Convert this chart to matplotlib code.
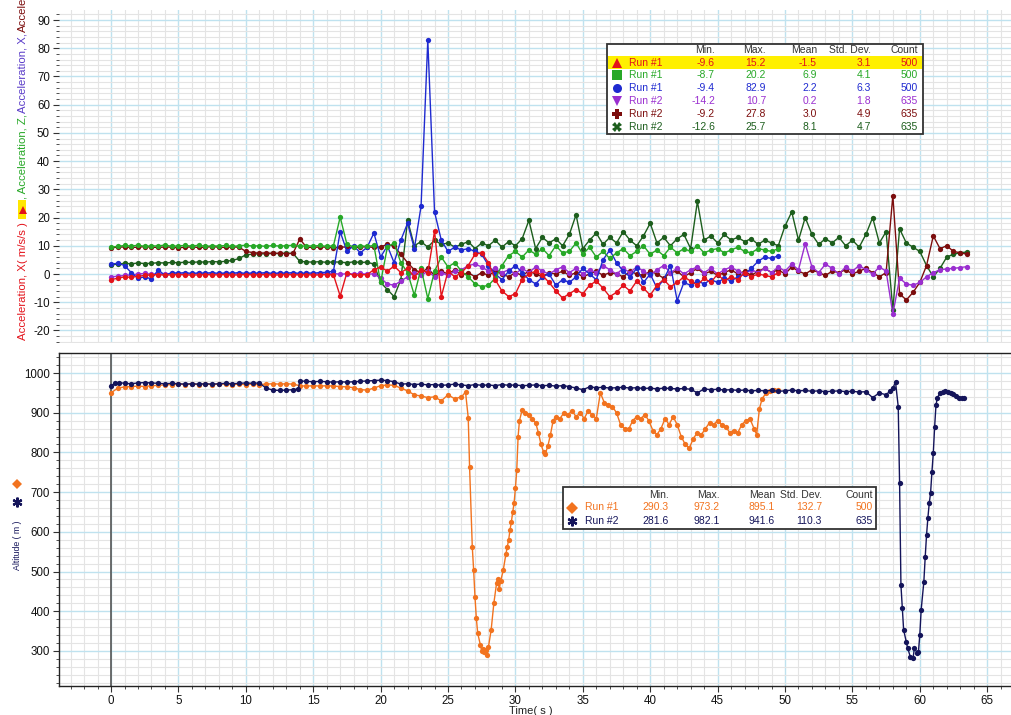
import numpy as np
import matplotlib
matplotlib.use("Agg")
import matplotlib.pyplot as plt
from matplotlib.ticker import MultipleLocator
from matplotlib.patches import Rectangle
from matplotlib.lines import Line2D

plt.rcParams['font.family'] = ['Liberation Sans', 'DejaVu Sans']
plt.rcParams['axes.unicode_minus'] = False

W, H = 1012, 715
STEP = 0.5  # seconds between the acceleration readings kept

# -- Run #1 acceleration ( m/s/s ), one reading every STEP s from t = 0
acc_x1 = [-2.0, -1.5, -1.0, -1.2, -0.8, -0.5,
          -0.3, -0.2, -0.4, -0.3, -0.2, -0.3, -0.4, -0.3, -0.2, -0.3, -0.3, -0.2, -0.4, -0.3,
          -0.2, -0.3, -0.3, -0.2, -0.4, -0.3, -0.2, -0.3, -0.3, -0.2, -0.4, -0.3, -0.2, -0.3,
          -7.8, 0.5, -0.5, -0.3, -0.2, 1.5, 2.5, 1.0, 2.8, 0.5, 2.0, -1.0, 1.5, 0.5,
          15.2, -8.0, 1.0, -1.0, 0.5, 3.0, 7.0, 7.5, 4.0, -2.0,
          -6.0, -8.0, -7.0, -2.0, 0.0, 1.0, -0.5, -3.0, -6.0, -8.5,
          -7.0, -5.5, -7.0, -4.0, -2.5, -5.0, -8.0, -6.5, -4.0, -6.0,
          -2.5, -5.0, -7.5, -4.0, -2.0, -4.5, -3.0, -1.0, -2.5, -4.0,
          -1.5, -3.0, 0.0, -2.5, -1.0, -2.0, 0.5, -1.0, 0.0, -0.5, -1.0, 0.5]
acc_z1 = [9.5, 9.8, 10.1, 9.9, 10.2, 9.8, 10.0, 9.9, 10.3, 9.8, 10.0, 10.1, 9.9, 10.2, 9.8, 10.0, 9.9,
          10.1, 9.8, 10.0, 10.2, 9.9, 10.0, 9.8, 10.1, 9.9, 10.0, 10.2, 9.8, 10.0, 9.9, 10.1, 9.8, 10.0,
          20.2, 10.5, 9.6, 10.0, 9.8, 10.1, -3.0, 9.5, 11.0, 4.0, 0.5, -7.5, 2.0, -8.7, 1.0, 6.0,
          2.5, 4.0, 1.0, -1.0, -3.5, -4.5, -4.0, -1.5, 3.0, 6.5, 8.0, 6.0, 8.5, 7.0, 9.0, 6.5,
          10.0, 7.5, 8.0, 11.0, 7.0, 9.5, 6.0, 8.0, 5.5, 7.5, 9.0, 6.5, 8.0, 10.0, 7.0, 8.5,
          6.5, 9.5, 7.5, 9.0, 8.0, 10.0, 7.5, 8.5, 9.0, 7.5, 8.5, 9.5, 8.0, 7.5, 9.0, 8.5, 8.0, 9.0]
acc_y1 = [3.5, 3.8, 3.0, 0.5, -1.5, -1.0, -1.8, 1.5, -0.5, 0.5,
          0.3, 0.5, 0.2, 0.4, 0.3, 0.5, 0.2, 0.4, 0.3, 0.5, 0.2, 0.4,
          0.3, 0.5, 0.2, 0.4, 0.3, 0.5, 0.2, 0.4, 0.3, 0.5, 0.6, 1.0,
          15.0, 8.0, 10.0, 7.5, 9.5, 14.5, 6.0, 10.0, 4.0, 12.0, 18.0, 9.0, 24.0, 82.9,
          22.0, 12.0, 8.0, 9.5, 8.5, 9.0, 8.0, 7.0, 3.0, 0.0, -2.0, 1.0, 3.0, 0.5,
          -2.0, -3.5, -1.0, 0.0, -4.0, -2.0, -3.0, -1.0, 2.0, 0.0, -2.0, 5.0, 8.5, 4.0,
          1.0, -1.0, 2.0, -3.0, 0.0, -5.0, -2.0, 3.0, -9.4, -3.0, -4.0, -2.5, -3.5, -2.0,
          -3.0, -1.5, -2.5, -1.0, 0.0, 2.0, 4.5, 6.0, 5.5, 6.5]

# -- Run #2 acceleration
acc_x2 = [-1.0, -0.8, -0.5, -0.3,
          0.0, 0.2, -0.1, 0.1, 0.0, 0.2, -0.1, 0.1, 0.0, 0.2, -0.1, 0.1,
          0.0, 0.2, -0.1, 0.1, 0.0, 0.2, -0.1, 0.1, 0.0, 0.2, -0.1, 0.1,
          0.0, 0.2, -0.1, 0.1, 0.0, 0.2, -0.1, 0.1, 0.0, 0.2, -0.1, 0.1,
          -1.5, -3.5, -4.0, -2.5, -1.0, 0.5, -0.5, 1.0, -1.0, 0.5,
          -0.5, 1.0, 1.5, 3.0, 3.5, 2.5, 1.0, 2.0, 0.5, 1.5,
          0.0, 2.0, 0.5, 2.5, 1.0, 0.0, 1.5, 2.5, 0.5, 2.0,
          0.0, 1.5, 0.5, 3.0, 1.5, 0.0, 2.0, 0.5, 2.5, 1.0,
          -0.5, 1.5, 3.0, 0.5, 2.0, 0.0, 1.5, 2.5, 0.5, 2.0,
          0.0, 1.5, 2.5, 1.0, 0.0, 1.5, 0.5, 2.0, 0.5, 2.5,
          1.0, 3.5, 1.5, 10.7, 2.5, 0.5, 3.5, 2.0, 0.0, 2.5, 1.0, 3.0, 1.5, 0.0, 2.5, 1.0,
          -14.2, -1.5, -3.5, -4.0, -3.0, -1.0, 0.5, 1.5, 1.8, 2.0, 2.3, 2.6]
acc_p2 = [9.3, 9.5, 9.6, 9.4, 9.5, 9.7, 9.5, 9.4, 9.6, 9.5, 9.3, 9.5, 9.6, 9.4, 9.5, 9.7, 9.5, 9.4, 9.6, 9.5,
          8.0, 7.6, 7.4, 7.5, 7.3, 7.4, 7.2, 7.3,
          12.4, 9.5, 9.4, 9.6, 9.5, 9.3, 9.5, 9.6, 9.4, 9.5, 9.7, 9.4, 9.6, 10.5, 9.8,
          7.0, 4.0, 1.5, 0.5, 2.0, -0.5, 1.0, 0.0, 1.5, -0.5,
          0.5, -1.0, 0.5, -0.5, 1.0, 0.0, -1.0, 0.5, -0.5, 1.0,
          0.0, -1.0, 0.5, 0.0, 1.0, -0.5, 0.5, -1.0, 0.0, 1.0,
          -0.5, 0.5, 0.0, -1.0, 1.0, 0.0, -0.5, 1.0, 0.0, -1.5,
          0.5, 1.0, -1.0, 0.5, 2.0, 0.0, 1.0, -0.5, 0.5, 1.5,
          0.0, 1.0, -0.5, 1.0, 2.0, 0.5, 1.5, 0.0, 2.5, 1.0,
          0.0, 1.5, 0.5, -0.5, 1.0, 0.5, 1.5, 0.0, 1.0, 2.0,
          0.5, -1.0, 0.5,
          27.8, -7.0, -9.2, -6.5, -3.0, 3.0, 13.5, 9.0, 10.0, 8.0, 7.5, 7.0]
acc_k2 = [3.2, 3.5, 3.8, 3.6, 3.9, 3.7, 3.8, 4.0, 3.9, 4.1, 4.0, 4.2, 4.1, 4.3, 4.2, 4.4, 4.3, 4.5, 4.8, 5.5,
          6.8, 7.0, 7.2, 7.1, 7.3, 7.2, 7.4, 7.3,
          4.5, 4.3, 4.2, 4.4, 4.1, 4.3, 4.2, 4.0, 4.3, 4.1, 4.2, 3.5,
          -3.0, -5.5, -8.0, -2.0, 19.0, 10.0, 11.5, 9.5, 12.0, 10.5,
          11.0, 9.5, 10.5, 11.5, 9.0, 11.0, 10.0, 12.0, 9.5, 11.5,
          10.0, 12.5, 19.0, 9.0, 13.0, 11.0, 12.5, 10.0, 14.0, 21.0,
          9.0, 12.0, 14.5, 10.5, 13.0, 11.0, 15.0, 12.0, 10.0, 13.5,
          18.0, 11.0, 13.0, 10.0, 12.5, 14.0, 9.0, 25.7, 12.0, 13.5,
          11.0, 14.0, 12.0, 13.0, 11.5, 12.5, 10.5, 12.0, 11.0, 10.0,
          17.0, 22.0, 12.0, 20.0, 14.0, 10.5, 12.5, 11.0, 13.0, 10.0,
          12.0, 9.5, 14.0, 20.0, 11.0, 15.0,
          -12.6, 16.0, 11.0, 9.5, 8.0, 3.0, -1.0, 2.0, 6.0, 7.0, 7.5, 7.8]

# -- Altitude ( m ), (time s, altitude) readings
alt_run1 = [(0, 950), (0.5, 962), (1, 965), (1.5, 966), (2, 967), (2.5, 966), (3, 968), (3.5, 969),
            (4, 970), (4.5, 971), (5, 972), (5.5, 971), (6, 972), (6.5, 971), (7, 972), (7.5, 971),
            (8, 972), (8.5, 972), (9, 971), (9.5, 972), (10, 971), (10.5, 972), (11, 971), (11.5, 972),
            (12, 973), (12.5, 972), (13, 973), (13.5, 972), (14, 968), (14.5, 967), (15, 968), (15.5, 967),
            (16, 968), (16.5, 967), (17, 966), (17.5, 965), (18, 963), (18.5, 958), (19, 957), (19.5, 962),
            (20, 968), (20.5, 970), (21, 969), (21.5, 962), (22, 955), (22.5, 945), (23, 942), (23.5, 938),
            (24, 940), (24.5, 930), (25, 945), (25.5, 935), (26, 940), (26.3, 952), (26.5, 887), (26.6, 763),
            (26.8, 562), (26.9, 504), (27.0, 436), (27.1, 383), (27.2, 345), (27.4, 315), (27.5, 300),
            (27.6, 305), (27.7, 298), (27.8, 303), (27.9, 290), (28.0, 310), (28.2, 353), (28.4, 420),
            (28.6, 470), (28.7, 480), (28.8, 455), (28.9, 475), (29.1, 504), (29.3, 545), (29.4, 562),
            (29.5, 580), (29.6, 605), (29.7, 625), (29.8, 650), (29.9, 672), (30.0, 710), (30.1, 756),
            (30.2, 840), (30.3, 880), (30.5, 907), (30.7, 900), (31.0, 895), (31.2, 885), (31.5, 875),
            (31.7, 850), (31.9, 820), (32.1, 800), (32.2, 795), (32.4, 815), (32.6, 845), (32.8, 880),
            (33.0, 890), (33.3, 885), (33.6, 900), (33.9, 895), (34.2, 905), (34.5, 890), (34.8, 900),
            (35.1, 885), (35.4, 905), (35.7, 895), (36.0, 885), (36.3, 950), (36.6, 925), (36.9, 920),
            (37.2, 915), (37.5, 900), (37.8, 870), (38.1, 860), (38.4, 858), (38.7, 880), (39.0, 890),
            (39.3, 885), (39.6, 895), (39.9, 880), (40.2, 855), (40.5, 845), (40.8, 860), (41.1, 885),
            (41.4, 870), (41.7, 890), (42.0, 870), (42.3, 840), (42.6, 820), (42.9, 811), (43.2, 835),
            (43.5, 850), (43.8, 845), (44.1, 860), (44.4, 875), (44.7, 870), (45.0, 880), (45.3, 870),
            (45.6, 865), (45.9, 850), (46.2, 855), (46.5, 850), (46.8, 870), (47.1, 880), (47.4, 885),
            (47.7, 860), (47.9, 845), (48.1, 910), (48.3, 935), (48.6, 950), (48.9, 955), (49.2, 958),
            (49.5, 957)]
alt_run2 = [(0, 968), (0.3, 974), (0.6, 976), (1, 974), (1.5, 973), (2, 975), (2.5, 976), (3, 975),
            (3.5, 974), (4, 973), (4.5, 974), (5, 973), (5.5, 972), (6, 973), (6.5, 972), (7, 973),
            (7.5, 972), (8, 973), (8.5, 974), (9, 973), (9.5, 974), (10, 975), (10.5, 974), (11, 975),
            (11.5, 962), (12, 957), (12.5, 956), (13, 957), (13.5, 958), (13.9, 960), (14, 980),
            (14.5, 979), (15, 978), (15.5, 979), (16, 978), (16.5, 977), (17, 978), (17.5, 977),
            (18, 978), (18.5, 979), (19, 980), (19.5, 981), (20, 982), (20.5, 981), (21, 978),
            (21.5, 972), (22, 973), (22.5, 971), (23, 972), (23.5, 970), (24, 971), (24.5, 969),
            (25, 970), (25.5, 972), (26, 970), (26.5, 968), (27, 971), (27.5, 969), (28, 970),
            (28.5, 968), (29, 971), (29.5, 969), (30, 970), (30.5, 968), (31, 969), (31.5, 970),
            (32, 968), (32.5, 969), (33, 967), (33.5, 968), (34, 966), (34.5, 962), (35, 958),
            (35.5, 965), (36, 963), (36.5, 964), (37, 962), (37.5, 963), (38, 964), (38.5, 962),
            (39, 963), (39.5, 961), (40, 962), (40.5, 960), (41, 962), (41.5, 961), (42, 960),
            (42.5, 961), (43, 959), (43.5, 950), (44, 960), (44.5, 958), (45, 959), (45.5, 957),
            (46, 958), (46.5, 956), (47, 957), (47.5, 955), (48, 956), (48.5, 955), (49, 956),
            (49.5, 954), (50, 955), (50.5, 957), (51, 955), (51.5, 956), (52, 954), (52.5, 955),
            (53, 953), (53.5, 954), (54, 955), (54.5, 953), (55, 954), (55.5, 952), (56, 953),
            (56.5, 938), (57, 950), (57.5, 945), (57.8, 955), (58.0, 962), (58.2, 977), (58.4, 915),
            (58.5, 723), (58.6, 466), (58.7, 408), (58.8, 353), (59.0, 323), (59.1, 307), (59.3, 285),
            (59.5, 282), (59.6, 307), (59.8, 295), (59.9, 298), (60.0, 340), (60.1, 403), (60.3, 474),
            (60.4, 536), (60.5, 592), (60.6, 635), (60.7, 672), (60.8, 698), (60.9, 751), (61.0, 798),
            (61.1, 864), (61.2, 919), (61.3, 937), (61.5, 950), (61.7, 952), (61.9, 955), (62.1, 952),
            (62.3, 950), (62.5, 947), (62.7, 942), (62.9, 938), (63.1, 937), (63.3, 938)]

# -- statistics boxes
stat_heads = ["Min.", "Max.", "Mean", "Std. Dev.", "Count"]
acc_names = ["Run #1", "Run #1", "Run #1", "Run #2", "Run #2", "Run #2"]
acc_min = ["-9.6", "-8.7", "-9.4", "-14.2", "-9.2", "-12.6"]
acc_max = ["15.2", "20.2", "82.9", "10.7", "27.8", "25.7"]
acc_mean = ["-1.5", "6.9", "2.2", "0.2", "3.0", "8.1"]
acc_sd = ["3.1", "4.1", "6.3", "1.8", "4.9", "4.7"]
acc_count = ["500", "500", "500", "635", "635", "635"]
alt_names = ["Run #1", "Run #2"]
alt_min = ["290.3", "281.6"]
alt_max = ["973.2", "982.1"]
alt_mean = ["895.1", "941.6"]
alt_sd = ["132.7", "110.3"]
alt_count = ["500", "635"]

RED, GREEN, BLUE = '#e3131b', '#27a827', '#1f2ad0'
PURPLE, DKRED, DKGREEN = '#9a2fd0', '#7c0d0d', '#1d5e1d'
ORANGE, NAVY = '#f2731f', '#14145a'
acc_colors = [RED, GREEN, BLUE, PURPLE, DKRED, DKGREEN]
acc_marks = ['^', 's', 'o', 'v', 'P', 'X']


def fx(x):
    return x / W


def fy(y):
    return 1 - y / H


def paper(ax, lo, hi, major, minor):
    ax.set_xlim(-3.86, 66.84)
    ax.set_ylim(lo, hi)
    ax.xaxis.set_major_locator(MultipleLocator(5))
    ax.xaxis.set_minor_locator(MultipleLocator(1))
    ax.yaxis.set_major_locator(MultipleLocator(major))
    ax.yaxis.set_minor_locator(MultipleLocator(minor))
    ax.grid(True, which='minor', color='#e4e4e4', lw=0.8)
    ax.grid(True, which='major', color='#bfe2ef', lw=1.0)
    ax.set_axisbelow(True)
    ax.tick_params(which='both', direction='out', labelsize=8.3, colors='#333', labelcolor='#111')
    ax.tick_params(which='major', length=4, width=0.8, pad=2.5)
    ax.tick_params(which='minor', length=2, width=0.6)


def series(ax, t, v, color):
    ax.plot(t, v, '-', color=color, lw=1.0, marker='o', ms=3.8, mew=0, zorder=3)


def stats_box(x0, y0, x1, y1, head_y, row_y, row_h, cols, mark_x, name_x,
              names, columns, colors, marks, highlight=False):
    fig.add_artist(Rectangle((fx(x0), fy(y1)), (x1 - x0) / W, (y1 - y0) / H,
                             transform=fig.transFigure, facecolor='white',
                             edgecolor='#333', lw=1.3, zorder=5))
    if highlight:
        fig.add_artist(Rectangle((fx(x0 + 1), fy(row_y + 6)), (x1 - x0 - 2) / W, 12 / H,
                                 transform=fig.transFigure, facecolor='#fff000',
                                 edgecolor='none', zorder=5.5))
    for head, cx in zip(stat_heads, cols):
        fig.text(fx(cx), fy(head_y), head, ha='right', va='center', fontsize=7.5,
                 color='#333', zorder=6)
    for i, name in enumerate(names):
        y = row_y + i * row_h
        mk = marks[i]
        fig.add_artist(Line2D([fx(mark_x)], [fy(y)], marker=mk, color=colors[i],
                              ms=6.5 if mk != (6, 2, 0) else 7,
                              mew=0 if mk != (6, 2, 0) else 1.6,
                              transform=fig.transFigure, zorder=6))
        fig.text(fx(name_x), fy(y), name, ha='left', va='center', fontsize=7.5,
                 color=colors[i], zorder=6)
        for col, cx in zip(columns, cols):
            fig.text(fx(cx), fy(y), col[i], ha='right', va='center', fontsize=7.5,
                     color=colors[i], zorder=6)


fig = plt.figure(figsize=(W / 100, H / 100), dpi=100)
top = fig.add_axes([fx(59), fy(343), (W - 59) / W, 333 / H])
bot = fig.add_axes([fx(59), fy(686), (W - 59) / W, 333 / H])

# -- acceleration panel
paper(top, -24.45, 93.55, 10, 2)
for s in top.spines.values():
    s.set_visible(False)
top.tick_params(axis='x', which='both', bottom=False, labelbottom=False)
for vals, col in [(acc_k2, DKGREEN), (acc_p2, DKRED), (acc_x2, PURPLE),
                  (acc_y1, BLUE), (acc_z1, GREEN), (acc_x1, RED)]:
    series(top, np.arange(len(vals)) * STEP, vals, col)

# -- altitude panel
paper(bot, 211.6, 1050.4, 100, 20)
bot.spines['right'].set_visible(False)
for k in ['top', 'left', 'bottom']:
    bot.spines[k].set_color('#222')
    bot.spines[k].set_linewidth(1.0)
bot.axvline(0, color='#555555', lw=1.2, zorder=2)
for pairs, col in [(alt_run1, ORANGE), (alt_run2, NAVY)]:
    t, v = np.array(pairs).T
    series(bot, t, v, col)

fig.text(fx(531), fy(711), "Time( s )", ha='center', va='center', fontsize=8, color='#222')

# -- statistics boxes
stats_box(607, 44, 923, 134, 50, 62.5, 12.9, [715, 766, 817, 871, 918], 617, 629,
          acc_names, [acc_min, acc_max, acc_mean, acc_sd, acc_count],
          acc_colors, acc_marks, highlight=True)
stats_box(563, 487, 876, 529, 495, 507.5, 13.5, [669, 720, 775, 822, 873], 572, 585,
          alt_names, [alt_min, alt_max, alt_mean, alt_sd, alt_count],
          [ORANGE, NAVY], ['D', (6, 2, 0)])

# -- axis titles, built piece by piece like the logger software does
fig.canvas.draw()
rend = fig.canvas.get_renderer()
cur = H - 340
lab_x = fx(23)
pieces = [("Acceleration, X( m/s/s )", RED), (None, None),
          (", Acceleration, Z,", GREEN), ("Acceleration, X,", '#5a3cc8'),
          ("Acceler", DKRED)]
for text, col in pieces:
    if text is None:
        fig.add_artist(Rectangle((fx(18), (cur + 2) / H), 8 / W, 19 / H,
                                 transform=fig.transFigure, facecolor='#ffe600',
                                 edgecolor='none'))
        fig.add_artist(Line2D([fx(23)], [(cur + 11) / H], marker='^', color=RED,
                              ms=6, mew=0, transform=fig.transFigure))
        cur += 22
        continue
    t = fig.text(lab_x, cur / H, text, rotation=90, ha='center', va='bottom',
                 fontsize=8.2, color=col)
    cur = t.get_window_extent(rend).y1 + 1

fig.text(fx(17), fy(570), "Altitude ( m )", rotation=90, ha='center', va='bottom',
         fontsize=6.3, color=NAVY)
fig.add_artist(Line2D([fx(17)], [fy(502)], marker=(6, 2, 0), color=NAVY, ms=7, mew=1.6,
                      transform=fig.transFigure))
fig.add_artist(Line2D([fx(17)], [fy(484)], marker='D', color=ORANGE, ms=5, mew=0,
                      transform=fig.transFigure))

fig.savefig("out.png", dpi=100)
